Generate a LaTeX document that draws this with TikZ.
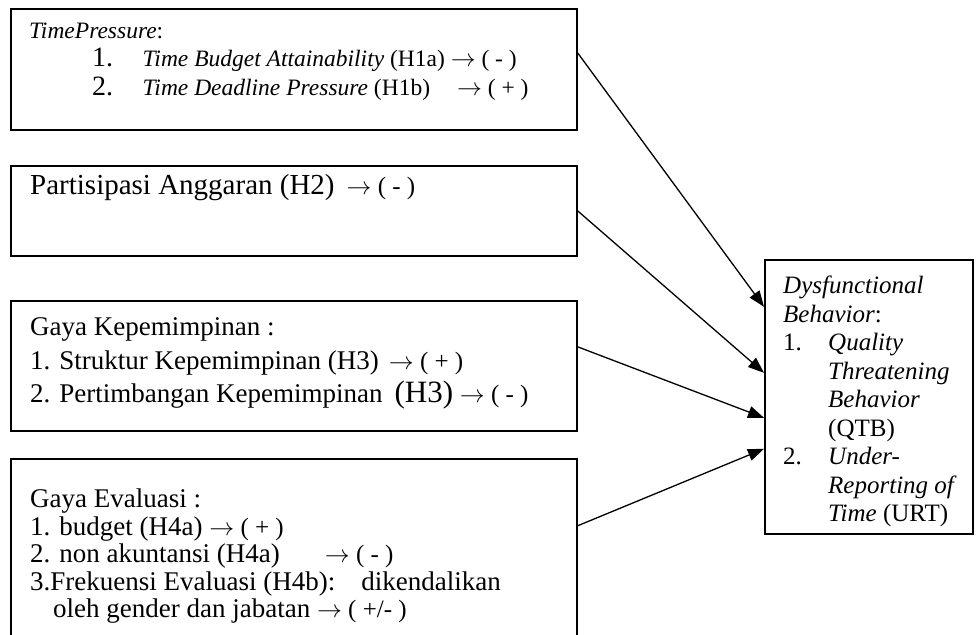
\documentclass[tikz,border=0pt]{standalone}
\usepackage{fontspec}
\setmainfont{Liberation Serif}
\usepackage{tikz}
\usetikzlibrary{arrows.meta}

\newcommand{\fsz}[2]{\fontsize{#1}{#2}\selectfont}
\newcommand{\ar}{$\rightarrow$}

\begin{document}
\begin{tikzpicture}[x=1pt, y=-1pt,
        box/.style={draw, line width=1.6pt, rectangle, anchor=north west, inner sep=0pt},
        txt/.style={anchor=north west, inner sep=0pt, align=left},
        conn/.style={-{Triangle[length=16pt, width=12pt]}, line width=1.3pt}]
        \useasboundingbox (0,0) rectangle (978,635);
        \clip (0,0) rectangle (978,635);

        \node[box, minimum width=566pt, minimum height=121pt] (tp) at (10, 8) {};
        \node[box, minimum width=566pt, minimum height=90pt] (pa) at (10, 165) {};
        \node[box, minimum width=566pt, minimum height=130pt] (gk) at (10, 300) {};
        \node[box, minimum width=566pt, minimum height=202pt] (ge) at (10, 458) {};
        \node[box, minimum width=208pt, minimum height=274pt] (db) at (764, 259) {};

        \node[txt, font=\fsz{23.5}{28.5}] (tptxt) at (29, 22.5) {\textit{TimePressure}:\\
            \hspace*{63pt}\makebox[50.5pt][l]{\fsz{28}{28.5}1.}\textit{Time Budget Attainability} (H1a) \ar{} ( - )\\
            \hspace*{63pt}\makebox[50.5pt][l]{\fsz{28}{28.5}2.}\textit{Time Deadline Pressure} (H1b)\hspace{27pt}\ar{} ( + )};
        \node[txt, font=\fsz{25}{28.5}] (patxt) at (30, 174) {{\fsz{29}{30}Partisipasi Anggaran (H2)}\hspace{12pt}\ar{} ( - )};
        \node[txt, font=\fsz{27}{33.5}] (gktxt) at (30, 317.7) {Gaya Kepemimpinan :\\
            1. Struktur Kepemimpinan (H3)\hspace{10pt}{\fsz{25}{28}\ar{} ( + )}\\
            2. Pertimbangan Kepemimpinan\hspace{12pt}{\fsz{31}{33}(H3)} {\fsz{25}{28}\ar{} ( - )}};
        \node[txt, font=\fsz{27}{27.5}] (getxt) at (30, 488.6) {Gaya Evaluasi :\\
            1. budget (H4a) {\fsz{25}{27}\ar{} ( + )}\\
            2. non akuntansi (H4a)\hspace{45pt}{\fsz{25}{27}\ar{} ( - )}\\
            3.Frekuensi Evaluasi (H4b):\hspace{26pt}dikendalikan\\
            \hspace*{23pt}oleh gender dan jabatan {\fsz{25}{27}\ar{} ( +/- )}};
        \node[txt, font=\fsz{25}{28.5}] (dbtxt) at (783, 276) {\textit{Dysfunctional}\\
            \textit{Behavior}:\\
            \makebox[45pt][l]{1.}\textit{Quality}\\
            \hspace*{45pt}\textit{Threatening}\\
            \hspace*{45pt}\textit{Behavior}\\
            \hspace*{45pt}(QTB)\\
            \makebox[45pt][l]{2.}\textit{Under-}\\
            \hspace*{45pt}\textit{Reporting of}\\
            \hspace*{45pt}\textit{Time} (URT)};

        \draw[conn] ([yshift=16.5pt]tp.east) -- ([yshift=90pt]db.west);
        \draw[conn] (pa.east) -- ([yshift=24pt]db.west);
        \draw[conn] ([yshift=19pt]gk.east) -- ([yshift=-21pt]db.west);
        \draw[conn] ([yshift=34pt]ge.east) -- ([yshift=-52pt]db.west);
    \end{tikzpicture}
\end{document}
